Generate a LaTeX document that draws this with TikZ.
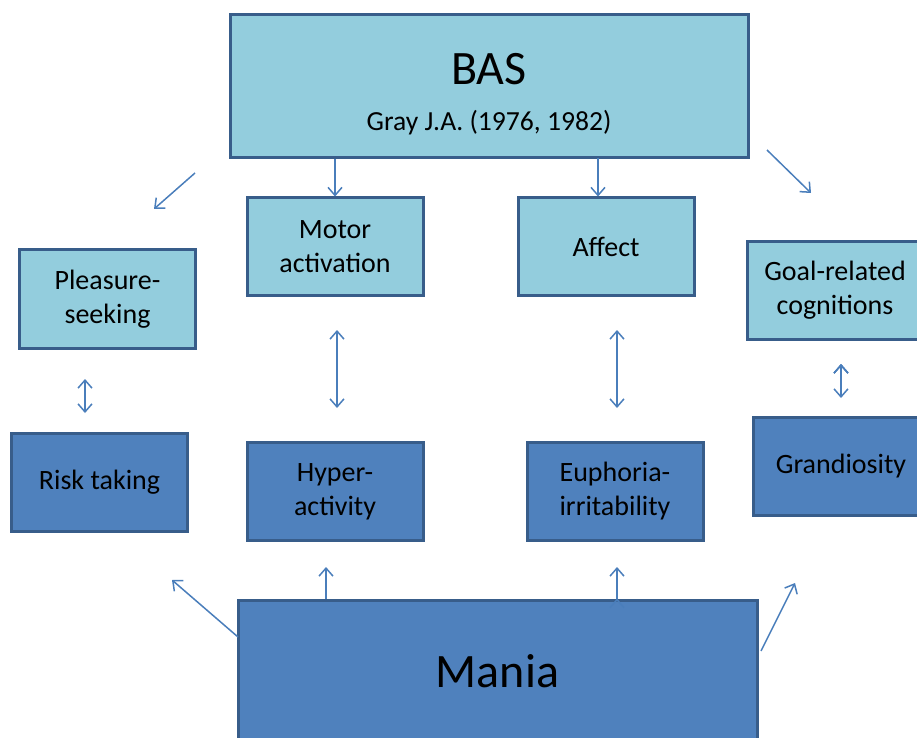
\documentclass[tikz,border=0pt]{standalone}
\usepackage{fontspec}
\setmainfont{Carlito}
\usetikzlibrary{arrows.meta}
\definecolor{lightbox}{HTML}{93CDDD}
\definecolor{darkbox}{HTML}{4F81BD}
\definecolor{boxline}{HTML}{385D8A}
\definecolor{arrowline}{HTML}{4A7EBB}
\tikzset{
  light/.style={draw=boxline, fill=lightbox, line width=1.5pt, minimum width=88pt, minimum height=49pt, align=center, font=\fontsize{14}{17}\selectfont},
  dark/.style={light, fill=darkbox},
  arr/.style={draw=arrowline, line width=0.75pt, -{Straight Barb[length=4pt,width=7pt]}},
  dbl/.style={arr, {Straight Barb[length=4pt,width=7pt]}-{Straight Barb[length=4pt,width=7pt]}},
}
\begin{document}
\begin{tikzpicture}[x=0.5pt, y=-0.5pt]
            \useasboundingbox (0,0) rectangle (917,738);
            % top: BAS and its four parts
            \node[light, minimum width=259pt, minimum height=71.5pt] (bas) at (489,86.5) {};
            \node[font=\fontsize{24}{28}\selectfont] (bastitle) at (489,69) {BAS};
            \node[font=\fontsize{13.8}{16}\selectfont] (bassub) at (489,123) {Gray J.A. (1976, 1982)};
            \node[light] (motor) at (335,247) {Motor\\activation};
            \node[light] (affect) at (606,247) {Affect};
            \node[light] (pleasure) at (107.5,299) {Pleasure-\\seeking};
            \node[light] (goal) at (835,290.5) {Goal-related\\cognitions};
            % bottom: Mania and its four symptoms
            \node[dark] (risk) at (99.5,482.5) {Risk taking};
            \node[dark] (hyper) at (335,491.5) {Hyper-\\activity};
            \node[dark] (euph) at (615,491.5) {Euphoria-\\irritability};
            \node[dark] (grand) at (841,466.5) {Grandiosity};
            \node[dark, minimum width=259.5pt, minimum height=71.5pt, font=\fontsize{24}{28}\selectfont] (mania) at (497.5,671.5) {Mania};
            % free ends of the short arrows
            \coordinate (b1) at (195,173);
            \coordinate (b2) at (154,209);
            \coordinate (b3) at (598,158);
            \coordinate (b4) at (767,150);
            \coordinate (b5) at (811,193);
            \coordinate (d1) at (85,379);
            \coordinate (d2) at (85,413);
            \coordinate (d3) at (337,330);
            \coordinate (d4) at (337,408);
            \coordinate (d5) at (617,330);
            \coordinate (d6) at (617,408);
            \coordinate (d7) at (841,364);
            \coordinate (d8) at (841,398);
            \coordinate (m1) at (238,637);
            \coordinate (m2) at (172,580);
            \coordinate (m3) at (326,567);
            \coordinate (m4) at (617,567);
            \coordinate (m5) at (761,651);
            \coordinate (m6) at (795,583);
            \path[arr]
            (b1) edge (b2)
            (bas.south -| motor.north) edge (motor.north)
            (b3) edge (b3 |- affect.north)
            (b4) edge (b5)
            (m1) edge (m2)
            (m3 |- mania.north) edge (m3)
            (m4 |- mania.north) edge (m4);
            \draw[arr] (m5) -- (m6);
            \path[dbl]
            (d1) edge (d2)
            (d3) edge (d4)
            (d5) edge (d6)
            (d7) edge (d8);
        \end{tikzpicture}
\end{document}
